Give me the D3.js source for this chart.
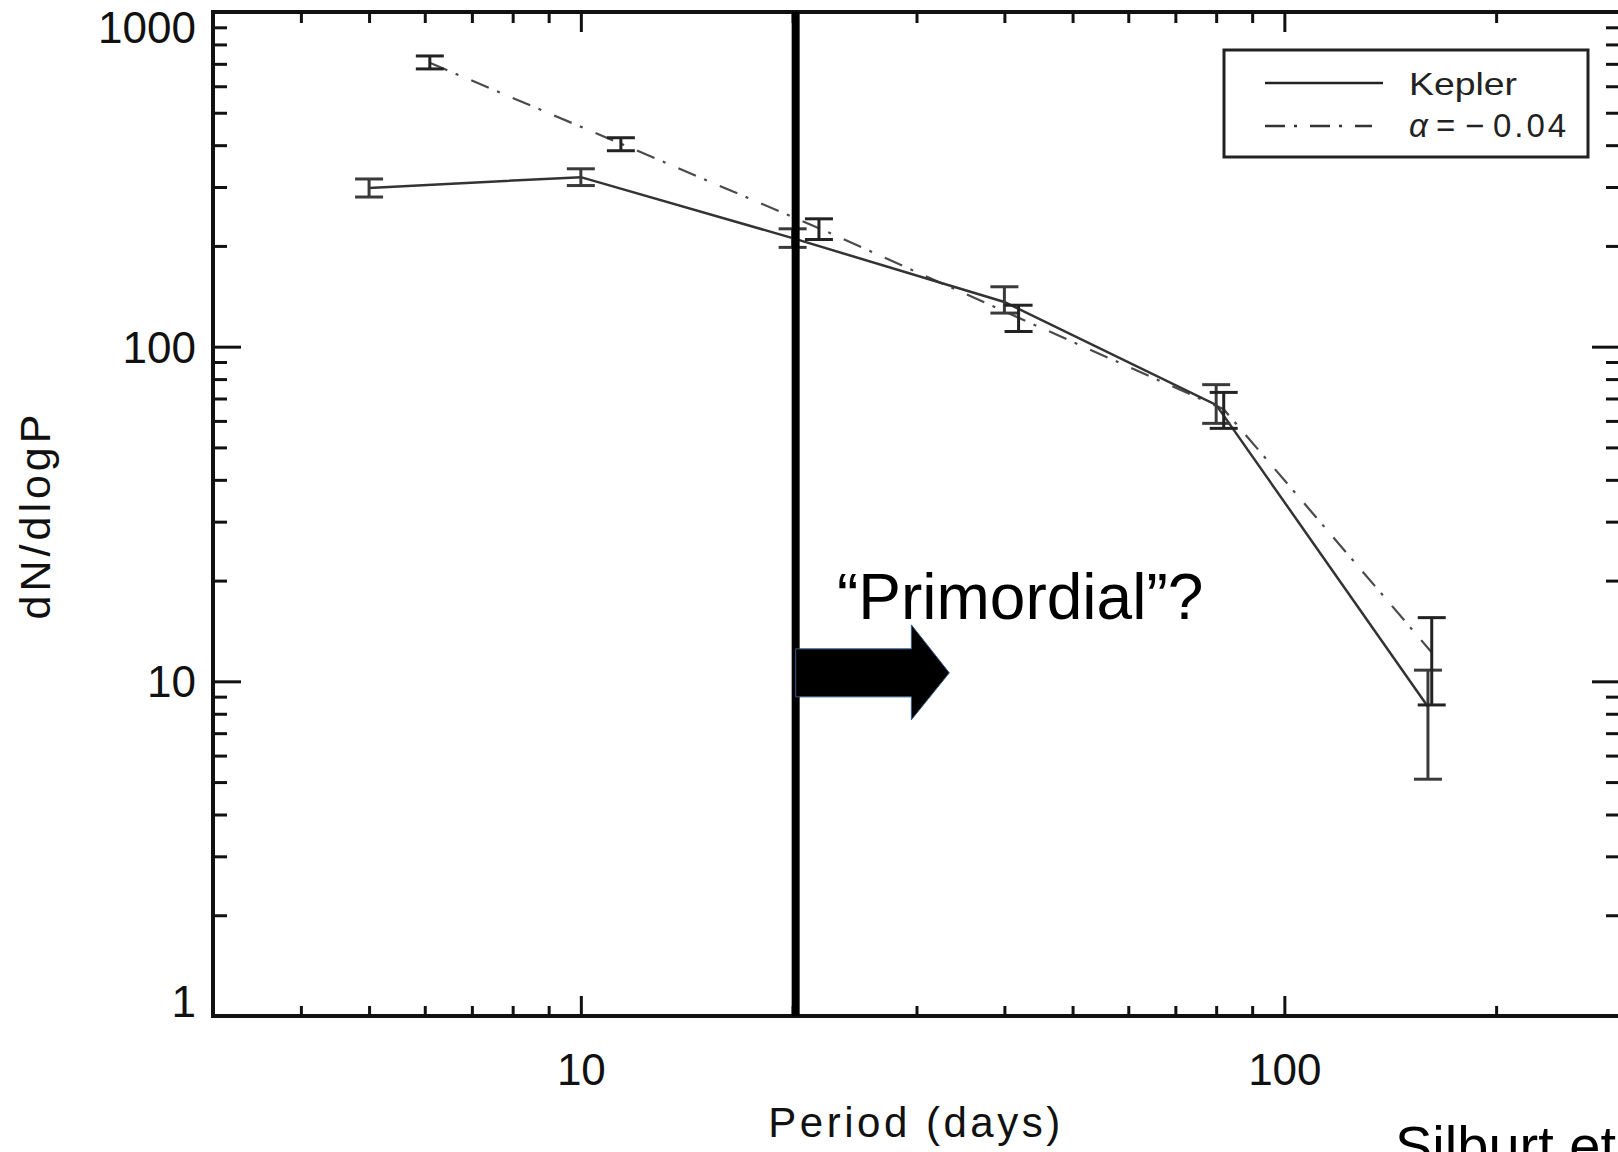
<!DOCTYPE html>
<html>
<head>
<meta charset="utf-8">
<script src="https://cdn.jsdelivr.net/npm/d3@7"></script>
<style>
  html, body { margin: 0; padding: 0; background: #fff; }
  svg { display: block; }
  text { font-family: "Liberation Sans", Arial, Helvetica, sans-serif; }
</style>
</head>
<body>
<svg id="chart" width="1618" height="1152"></svg>
<script>
// ---- data ----
const keplerPeriods = [5, 10, 20, 40, 80, 160];
const keplerValues  = [298, 321, 211, 136, 67, 8.4];
const keplerLow     = [280, 303, 198, 126, 59, 5.1];
const keplerHigh    = [317, 340, 225, 151, 77, 10.8];

const modelPeriods = [6.1, 11.4, 21.8, 41.9, 82, 162];
const modelValues  = [705, 404, 226, 122, 65, 12.2];
const modelLow     = [676, 385, 209, 111, 57, 8.5];
const modelHigh    = [739, 421, 241, 133, 73, 15.5];

const xMajorTicks = [10, 100];
const xMinorTicks = [4, 5, 6, 7, 8, 9, 20, 30, 40, 50, 60, 70, 80, 90, 200];
const yMajorTicks = [1, 10, 100, 1000];
const yMinorTicks = [2, 3, 4, 5, 6, 7, 8, 9, 20, 30, 40, 50, 60, 70, 80, 90, 200, 300, 400, 500, 600, 700, 800, 900];

const cutPeriod = 20.2;
const legendKepler = "Kepler";
const legendModelParts = ["\u03b1", "=", "\u2212", "0.04"];
const annotationText = "\u201cPrimordial\u201d?";
const creditText = "Silburt et";

// ---- layout ----
const pL = 213, pR = 1620, pT = 12, pB = 1016;
const svg = d3.select("#chart");

const x = d3.scaleLog().domain([3, 300]).range([pL, pR]);
const y = d3.scaleLog().domain([1, 1000]).range([pB, pT]);

const keplerData = keplerPeriods.map((p, i) => ({p, v: keplerValues[i], lo: keplerLow[i], hi: keplerHigh[i]}));
const modelData  = modelPeriods.map((p, i) => ({p, v: modelValues[i], lo: modelLow[i], hi: modelHigh[i]}));

// ---- axes ----
function styleAxis(g) {
  g.select(".domain").remove();
  g.selectAll(".tick line").attr("stroke", "#111").attr("stroke-width", 3);
  g.selectAll(".tick text").attr("fill", "#111")
    .style("font-family", '"Liberation Sans", Arial, sans-serif');
}

// left
svg.append("g").attr("transform", `translate(${pL},0)`)
  .call(d3.axisLeft(y).tickValues(yMinorTicks).tickSize(-14).tickFormat(""))
  .call(styleAxis);
const yMajor = svg.append("g").attr("transform", `translate(${pL},0)`)
  .call(d3.axisLeft(y).tickValues(yMajorTicks).tickSize(-28).tickPadding(17).tickFormat(d3.format("d")))
  .call(styleAxis);
yMajor.selectAll(".tick text").style("font-size", "44px")
  .attr("dy", d => d === 1000 ? "0.7em" : (d === 1 ? "0em" : "0.35em"));

// right
svg.append("g").attr("transform", `translate(${pR},0)`)
  .call(d3.axisRight(y).tickValues(yMinorTicks).tickSize(-14).tickFormat(""))
  .call(styleAxis);
svg.append("g").attr("transform", `translate(${pR},0)`)
  .call(d3.axisRight(y).tickValues(yMajorTicks).tickSize(-28).tickFormat(""))
  .call(styleAxis);

// bottom
svg.append("g").attr("transform", `translate(0,${pB})`)
  .call(d3.axisBottom(x).tickValues(xMinorTicks).tickSize(-10).tickFormat(""))
  .call(styleAxis);
const xMajor = svg.append("g").attr("transform", `translate(0,${pB})`)
  .call(d3.axisBottom(x).tickValues(xMajorTicks).tickSize(-20).tickPadding(38).tickFormat(d3.format("d")))
  .call(styleAxis);
xMajor.selectAll(".tick text").style("font-size", "44px");

// top
svg.append("g").attr("transform", `translate(0,${pT})`)
  .call(d3.axisTop(x).tickValues(xMinorTicks).tickSize(-11).tickFormat(""))
  .call(styleAxis);
svg.append("g").attr("transform", `translate(0,${pT})`)
  .call(d3.axisTop(x).tickValues(xMajorTicks).tickSize(-20).tickFormat(""))
  .call(styleAxis);

// frame
svg.append("rect").attr("x", pL).attr("y", pT)
  .attr("width", pR - pL).attr("height", pB - pT)
  .attr("fill", "none").attr("stroke", "#111").attr("stroke-width", 4);

// axis titles
svg.append("text").attr("x", 916).attr("y", 1137).attr("text-anchor", "middle")
  .style("font-size", "42px").style("letter-spacing", "3.5px").attr("fill", "#111")
  .text("Period (days)");
svg.append("text").attr("transform", "translate(50,515) rotate(-90)").attr("text-anchor", "middle")
  .style("font-size", "43px").style("letter-spacing", "4px").attr("fill", "#111")
  .text("dN/dlogP");

// ---- series lines ----
const line = d3.line().x(d => x(d.p)).y(d => y(d.v));
svg.append("path").datum(modelData).attr("d", line)
  .attr("fill", "none").attr("stroke", "#4a4a4a").attr("stroke-width", 2.2)
  .attr("stroke-dasharray", "19,9,3,14");
svg.append("path").datum(keplerData).attr("d", line)
  .attr("fill", "none").attr("stroke", "#333").attr("stroke-width", 2.5);

// ---- error bars ----
function errorBars(data, color) {
  const g = svg.append("g").attr("stroke", color).attr("stroke-width", 3);
  const cap = 14;
  g.selectAll(".v").data(data).join("line")
    .attr("x1", d => x(d.p)).attr("x2", d => x(d.p))
    .attr("y1", d => y(d.lo)).attr("y2", d => y(d.hi));
  g.selectAll(".lo").data(data).join("line")
    .attr("x1", d => x(d.p) - cap).attr("x2", d => x(d.p) + cap)
    .attr("y1", d => y(d.lo)).attr("y2", d => y(d.lo));
  g.selectAll(".hi").data(data).join("line")
    .attr("x1", d => x(d.p) - cap).attr("x2", d => x(d.p) + cap)
    .attr("y1", d => y(d.hi)).attr("y2", d => y(d.hi));
}
errorBars(keplerData, "#3a3a3a");
errorBars(modelData, "#222");

// ---- thick vertical cut line ----
svg.append("line").attr("x1", x(cutPeriod)).attr("x2", x(cutPeriod))
  .attr("y1", pT).attr("y2", pB).attr("stroke", "#000").attr("stroke-width", 8);

// ---- arrow annotation ----
const ax0 = x(cutPeriod), axHead = x(29.5), axTip = x(33.4), ayc = y(10.6);
const arrowPts = [
  [ax0, ayc - 24], [axHead, ayc - 24], [axHead, ayc - 48], [axTip, ayc],
  [axHead, ayc + 47], [axHead, ayc + 24], [ax0, ayc + 24]
];
svg.append("polygon").attr("points", arrowPts.map(p => p.join(",")).join(" "))
  .attr("fill", "#000").attr("stroke", "#3b5b8a").attr("stroke-width", 1);

svg.append("text").attr("x", 837).attr("y", 619)
  .style("font-size", "64px").attr("fill", "#000").text(annotationText);

// ---- legend ----
const lg = svg.append("g");
lg.append("rect").attr("x", 1224).attr("y", 50).attr("width", 364).attr("height", 107)
  .attr("fill", "#fff").attr("stroke", "#222").attr("stroke-width", 3);
lg.append("line").attr("x1", 1265).attr("x2", 1383).attr("y1", 83).attr("y2", 83)
  .attr("stroke", "#222").attr("stroke-width", 2.5);
lg.append("line").attr("x1", 1265).attr("x2", 1372).attr("y1", 126).attr("y2", 126)
  .attr("stroke", "#333").attr("stroke-width", 2.5).attr("stroke-dasharray", "20,9,3,13");
lg.append("text").attr("x", 1409).attr("y", 95).style("font-size", "32px")
  .attr("fill", "#222").attr("textLength", 108).attr("lengthAdjust", "spacingAndGlyphs")
  .text(legendKepler);
const mt = lg.append("text").attr("y", 137).style("font-size", "33px").attr("fill", "#222");
const partX = [1409, 1436, 1465, 1493];
legendModelParts.forEach((t, i) => {
  const ts = mt.append("tspan").attr("x", partX[i]).text(t);
  if (i === 0) ts.style("font-style", "italic");
  if (i === 3) ts.style("letter-spacing", "3px");
});

// ---- credit (cut off by the page edge in the reference) ----
svg.append("text").attr("x", 1395).attr("y", 1165)
  .style("font-size", "56px").attr("fill", "#000").text(creditText);
</script>
</body>
</html>
